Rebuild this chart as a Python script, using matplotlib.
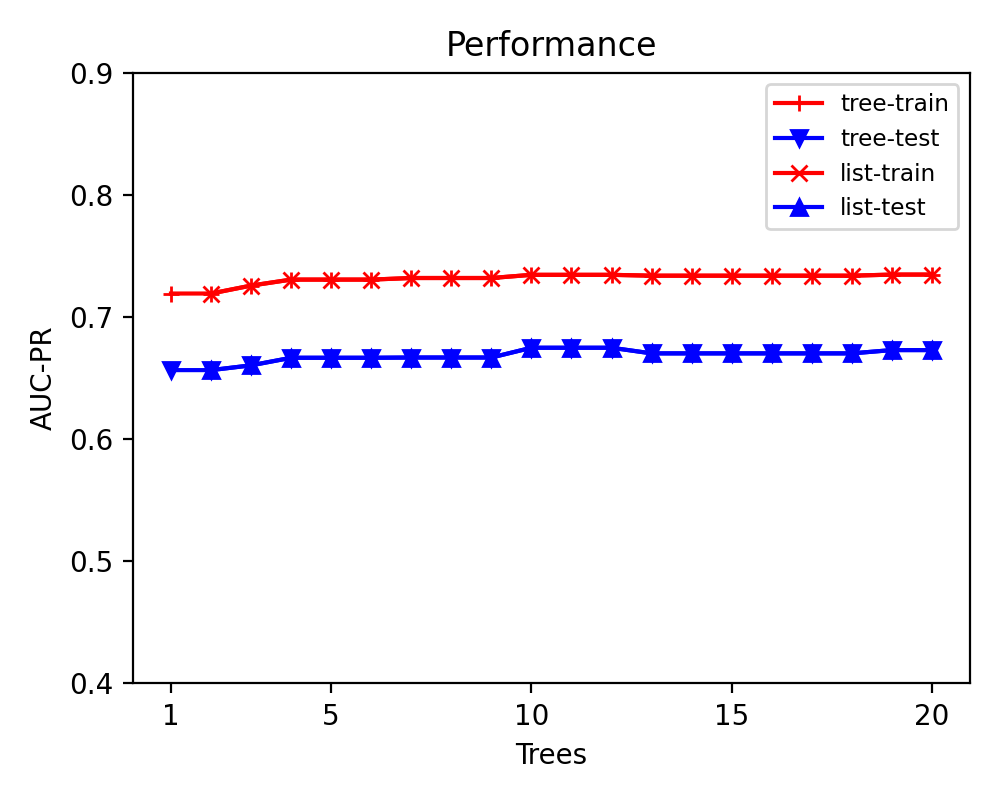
import matplotlib
matplotlib.use("Agg")
import matplotlib.pyplot as plt

trees = list(range(1, 21))
train_auc = [0.7192, 0.7192, 0.7257, 0.7306, 0.7306, 0.7306, 0.7319, 0.7319, 0.7319, 0.7345,
             0.7345, 0.7345, 0.7338, 0.7338, 0.7338, 0.7338, 0.7338, 0.7338, 0.7347, 0.7347]
test_auc = [0.6565, 0.6565, 0.6604, 0.6666, 0.6666, 0.6666, 0.6668, 0.6668, 0.6668, 0.6748,
            0.6748, 0.6748, 0.6702, 0.6702, 0.6702, 0.6702, 0.6702, 0.6702, 0.6729, 0.6729]

fig, ax = plt.subplots(figsize=(5, 4), dpi=200)
ax.plot(trees, train_auc, "r-+", label="tree-train")
ax.plot(trees, test_auc, "b-v", label="tree-test")
ax.plot(trees[1:], train_auc[1:], "r-x", label="list-train")
ax.plot(trees[1:], test_auc[1:], "b-^", label="list-test")
ax.set_ylim(0.4, 0.9)
ax.set_xticks([1, 5, 10, 15, 20])
ax.set_xlabel("Trees")
ax.set_ylabel("AUC-PR")
ax.set_title("Performance")
ax.legend(loc="upper right", fontsize="small")
fig.tight_layout()
fig.savefig("out.png")
